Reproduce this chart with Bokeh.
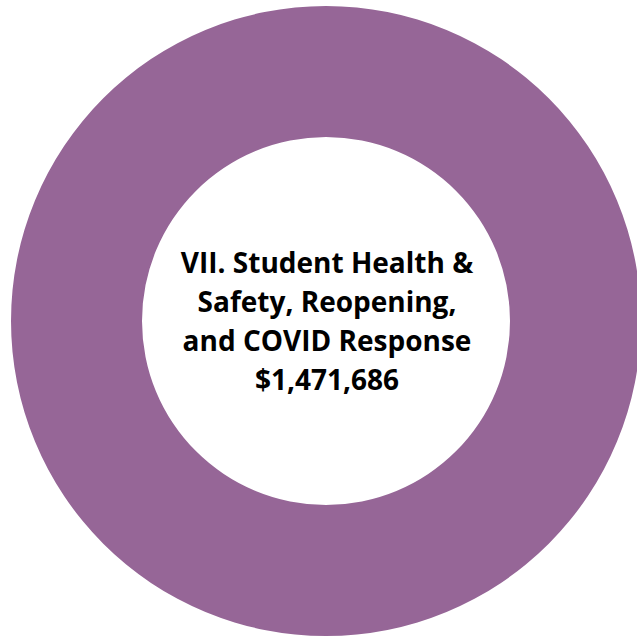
import numpy as np
from bokeh.plotting import figure
from bokeh.models import ColumnDataSource, Range1d
from bokeh.core.properties import value
from bokeh.embed import file_html
from bokeh.resources import INLINE

# Data
categories = ["VII. Student Health & Safety, Reopening, and COVID Response"]
amounts = [1471686]
label_lines = ["VII. Student Health &", "Safety, Reopening,", "and COVID Response", "$1,471,686"]
colors = ["#966697"]

W, H = 637, 640
p = figure(width=W, height=H, output_backend="svg", toolbar_location=None,
           x_range=Range1d(0, W), y_range=Range1d(0, H), min_border=0)
p.axis.visible = False
p.grid.visible = False
p.outline_line_color = None
p.background_fill_color = "white"
p.border_fill_color = "white"

cx, cy = 325.5, 319.5
total = float(sum(amounts))
fr = np.array(amounts) / total
ends = np.cumsum(fr) * 2 * np.pi
starts = np.concatenate([[0.0], ends[:-1]])
src = ColumnDataSource(dict(start=np.pi / 2 - starts, end=np.pi / 2 - ends, color=colors, cat=categories))
p.annular_wedge(x=cx, y=cy, inner_radius=184, outer_radius=315,
                start_angle="end", end_angle="start", color="color", line_color=None,
                direction="anticlock", source=src)

ys = [cy + 59, cy + 20, cy - 19, cy - 58]
tsrc = ColumnDataSource(dict(x=[cx + 1] * len(label_lines), y=ys, t=label_lines))
p.text(x="x", y="y", text="t", source=tsrc, text_font=value("Open Sans"), text_font_style="bold",
       text_font_size="28px", text_align="center", text_baseline="alphabetic", text_color="black")

open("out.html", "w").write(file_html(p, INLINE))
